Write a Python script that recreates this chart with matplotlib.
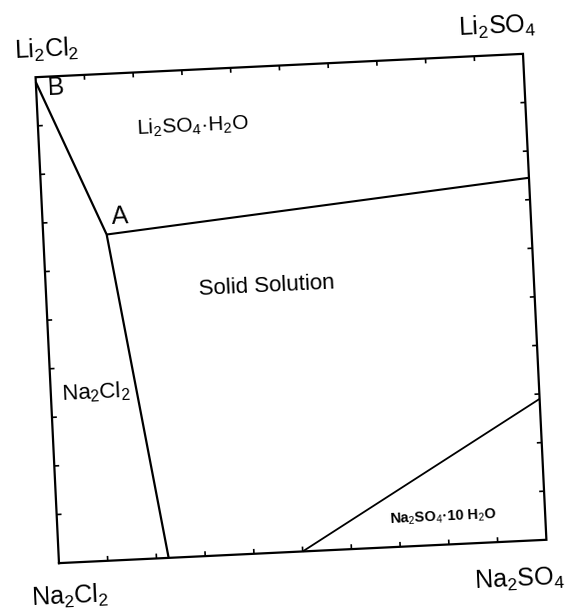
import matplotlib
matplotlib.use("Agg")
import matplotlib.pyplot as plt
from matplotlib.transforms import Affine2D

plt.rcParams['font.family'] = ['Liberation Sans', 'DejaVu Sans']
plt.rcParams['mathtext.fontset'] = 'custom'
plt.rcParams['mathtext.rm'] = 'Liberation Sans'
plt.rcParams['mathtext.it'] = 'Liberation Sans'
plt.rcParams['mathtext.bf'] = 'Liberation Sans:bold'

# ---- data (composition square: x = % sulfate side, y = % lithium side) ----
frame_x = [0, 100, 100, 0, 0]
frame_y = [0, 0, 100, 100, 0]
tick_values = [10, 20, 30, 40, 50, 60, 70, 80, 90]

# Na2Cl2 field boundary: B -> A -> bottom edge
na2cl2_bound_x = [0, 13, 22.5]
na2cl2_bound_y = [99, 67, 0]
# Li2SO4.H2O field boundary: A -> right edge
li2so4_bound_x = [13, 100]
li2so4_bound_y = [67, 74.5]
# Na2SO4.10H2O field boundary
na2so4_bound_x = [50, 100]
na2so4_bound_y = [0, 29]

corner_labels = [r'Li$_2$Cl$_2$', r'Li$_2$SO$_4$', r'Na$_2$Cl$_2$', r'Na$_2$SO$_4$']
corner_pos = [(2.5, 105.5), (95, 105.8), (2.0, -6.9), (94.0, -8.0)]

point_labels = ['B', 'A']
point_pos = [(4.0, 97.6), (15.8, 70.5)]

field_labels = [r'Li$_2$SO$_4$·H$_2$O', 'Solid Solution', r'Na$_2$Cl$_2$',
                r'Na$_2$SO$_4$·10 H$_2$O']
field_pos = [(31.7, 88.4), (45.2, 54.9), (9.3, 34.7), (79.1, 5.7)]
field_sizes = [15, 16, 16, 10.5]
field_weights = ['normal', 'normal', 'normal', 'bold']

# ---- figure ----
fig = plt.figure(figsize=(5.69, 6.11), dpi=100)
ax = fig.add_axes([0.0826, 0.0970, 0.8576, 0.7962])
ax.set_xlim(0, 100)
ax.set_ylim(0, 100)
ax.axis('off')

tr = Affine2D().rotate_deg_around(50, 50, 2.75) + ax.transData

kw = dict(color='black', transform=tr, clip_on=False, solid_capstyle='butt')
ax.plot(frame_x, frame_y, lw=1.6, solid_joinstyle='miter', color='black',
        transform=tr, clip_on=False)

tick_len = 1.0
for t in tick_values:
    ax.plot([t, t], [100, 100 - tick_len], lw=1.2, **kw)   # top (inward)
    ax.plot([t, t], [0, tick_len], lw=1.2, **kw)           # bottom
    ax.plot([0, tick_len], [t, t], lw=1.2, **kw)           # left
    ax.plot([100, 100 - tick_len], [t, t], lw=1.2, **kw)   # right

ax.plot(na2cl2_bound_x, na2cl2_bound_y, lw=1.6, **kw)
ax.plot(li2so4_bound_x, li2so4_bound_y, lw=1.5, **kw)
ax.plot(na2so4_bound_x, na2so4_bound_y, lw=1.3, **kw)

tkw = dict(ha='center', va='center', transform=tr, transform_rotates_text=True,
           rotation_mode='anchor', clip_on=False)
for lab, (x, y) in zip(corner_labels, corner_pos):
    ax.text(x, y, lab, fontsize=18, **tkw)
for lab, (x, y) in zip(point_labels, point_pos):
    ax.text(x, y, lab, fontsize=18, **tkw)
for lab, (x, y), s, w in zip(field_labels, field_pos, field_sizes, field_weights):
    ax.text(x, y, lab, fontsize=s, fontweight=w, **tkw)

fig.savefig('out.png', dpi=100, facecolor='white')
